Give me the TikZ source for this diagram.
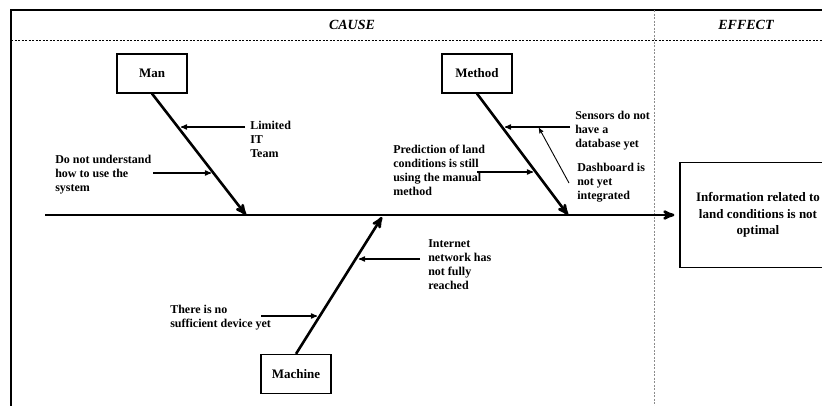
\documentclass[tikz,border=0pt]{standalone}
\usepackage{fontspec}
\setmainfont{Liberation Serif}
\usetikzlibrary{arrows, positioning}

\begin{document}
\begin{tikzpicture}[x=1pt, y=-1pt, >=stealth', semithick,
		box/.style={draw, line width=1.2pt, inner sep=0pt, minimum width=70pt, minimum height=39pt, font=\fontsize{13}{15}\selectfont\bfseries},
		head/.style={font=\fontsize{14}{16}\selectfont\bfseries\itshape},
		bone/.style={->, line width=2.6pt},
		hint/.style={->, line width=1.2pt},
		cause/.style={anchor=west, align=left, inner sep=0pt, font=\fontsize{12}{14}\selectfont\bfseries}]
		\useasboundingbox (0,0) rectangle (822,405);
		\clip (0,0) rectangle (822,405);

		% frame and header
		\draw[line width=2.5pt] (11,420) -- (11,10) -- (840,10);
		\draw[thin, dash pattern=on 2pt off 1.5pt] (11,40) -- (840,40);
		\draw[line width=1pt, black!45, dash pattern=on 2pt off 1.5pt] (654,10) -- (654,420);
		\node[head] (cause) at (352,25) {CAUSE};
		\node[head] (effecthead) at (746,25) {EFFECT};

		% head and spine
		\node[box, minimum width=156pt, minimum height=105pt, align=center, font=\fontsize{13}{16.5}\selectfont\bfseries] (effect) at (758,215) {Information related to\\land conditions is not\\optimal};
		\coordinate (tail) at (45,215);
		\draw[bone, shorten >=5pt] (tail) -- (effect.west);

		% bones
		\node[box] (man) at (152,73.5) {Man};
		\node[box] (method) at (477,73.5) {Method};
		\node[box] (machine) at (296,374) {Machine};
		\coordinate (manend) at (246,215);
		\coordinate (methodend) at (568,215);
		\coordinate (machineend) at (382,217);
		\draw[bone] (man.south) -- (manend);
		\draw[bone] (method.south) -- (methodend);
		\draw[bone] (machine.north) -- (machineend);

		% causes
		\node[cause] (lim) at (250,139) {Limited\\IT\\Team};
		\node[cause] (dnu) at (55,175) {Do not understand\\how to use the\\system};
		\node[cause] (sens) at (575,131) {Sensors do not\\have a\\database yet};
		\node[cause] (dash) at (577,183) {Dashboard is\\not yet\\integrated};
		\node[cause] (pred) at (393,170) {Prediction of land\\conditions is still\\using the manual\\method};
		\node[cause] (inet) at (428,265) {Internet\\network has\\not fully\\reached};
		\node[cause] (nodev) at (170,318) {There is no\\sufficient device yet};

		\coordinate (lim1) at (245,127);
		\coordinate (lim2) at (181,127);
		\coordinate (dnu1) at (153,173);
		\coordinate (dnu2) at (211,173);
		\coordinate (sens1) at (570,127);
		\coordinate (sens2) at (505,127);
		\coordinate (dash1) at (569,183);
		\coordinate (dash2) at (539,128);
		\coordinate (pred1) at (477,172);
		\coordinate (pred2) at (533,172);
		\coordinate (inet1) at (420,259);
		\coordinate (inet2) at (359,259);
		\coordinate (nodev1) at (261,316);
		\coordinate (nodev2) at (317,316);

		\draw[hint] (lim1) -- (lim2);
		\draw[hint] (dnu1) -- (dnu2);
		\draw[hint] (sens1) -- (sens2);
		\draw[hint, line width=0.9pt] (dash1) -- (dash2);
		\draw[hint] (pred1) -- (pred2);
		\draw[hint] (inet1) -- (inet2);
		\draw[hint] (nodev1) -- (nodev2);
	\end{tikzpicture}
\end{document}
